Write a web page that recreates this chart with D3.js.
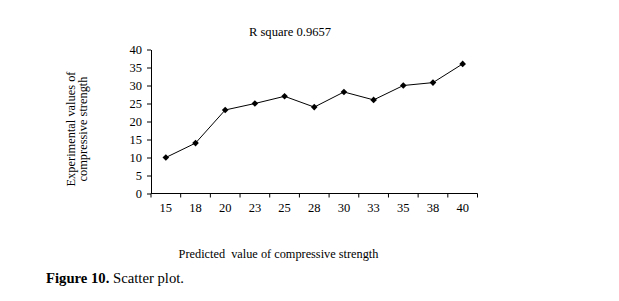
<!DOCTYPE html>
<html>
<head>
<meta charset="utf-8">
<script src="https://cdn.jsdelivr.net/npm/d3@7"></script>
<style>
  html, body { margin: 0; padding: 0; background: #fff; }
  svg { display: block; font-family: "Liberation Serif", "Times New Roman", serif; }
  .axis path, .axis line { stroke: #000; stroke-width: 1; }
  .axis text { font-size: 12.5px; fill: #000; font-family: "Liberation Serif", serif; }
</style>
</head>
<body>
<svg id="chart" width="619" height="301"></svg>
<script>
// predicted values (category labels) and experimental values
const predicted = ["15", "18", "20", "23", "25", "28", "30", "33", "35", "38", "40"];
const experimental = [10, 14, 23.2, 25, 27, 24, 28.2, 26, 30, 30.8, 36];
const yTicks = [0, 5, 10, 15, 20, 25, 30, 35, 40];

const svg = d3.select("#chart");
const m = { left: 151, top: 49.5, right: 477.5, bottom: 193.5 };

const x = d3.scaleBand().domain(predicted).range([m.left, m.right]);
const y = d3.scaleLinear().domain([0, 40]).range([m.bottom, m.top]);

// y axis
svg.append("g").attr("class", "axis")
  .attr("transform", `translate(${m.left},0)`)
  .call(d3.axisLeft(y).tickValues(yTicks).tickSize(4).tickSizeOuter(0).tickPadding(5))
  .call(g => g.selectAll("text").attr("dy", "0.35em"));

// x axis: ticks sit between categories
const xAxis = svg.append("g").attr("class", "axis")
  .attr("transform", `translate(0,${m.bottom})`);
xAxis.append("line").attr("x1", m.left).attr("x2", m.right).attr("stroke", "#000");
const edges = predicted.map(d => x(d)).concat([m.right]);
xAxis.selectAll("line.tk").data(edges).join("line").attr("class", "tk")
  .attr("x1", d => d).attr("x2", d => d).attr("y1", 0).attr("y2", 4).attr("stroke", "#000");
xAxis.selectAll("text").data(predicted).join("text")
  .attr("x", d => x(d) + x.bandwidth() / 2)
  .attr("y", 18)
  .attr("text-anchor", "middle")
  .text(d => d);

// line + diamond markers
const cx = (d, i) => x(predicted[i]) + x.bandwidth() / 2;
svg.append("path")
  .datum(experimental)
  .attr("fill", "none").attr("stroke", "#000").attr("stroke-width", 1)
  .attr("d", d3.line().x(cx).y(d => y(d)));

svg.append("g").selectAll("path").data(experimental).join("path")
  .attr("d", d3.symbol(d3.symbolSquare, 22))
  .attr("transform", (d, i) => `translate(${cx(d, i)},${y(d)}) rotate(45)`)
  .attr("fill", "#000");

// title
svg.append("text").attr("x", 290).attr("y", 36).attr("text-anchor", "middle")
  .attr("font-size", 12.6).text("R square 0.9657");

// y label (two lines)
const yl = svg.append("text").attr("transform", "translate(74.5,129) rotate(-90)")
  .attr("text-anchor", "middle").attr("font-size", 12.4);
yl.append("tspan").attr("x", 0).attr("y", 0).text("Experimental values of");
yl.append("tspan").attr("x", 0).attr("y", 12.5).text("compressive strength");

// x label
svg.append("text").attr("x", 278.5).attr("y", 258).attr("text-anchor", "middle")
  .attr("font-size", 12.3).attr("xml:space", "preserve")
  .text("Predicted  value of compressive strength");

// caption
const cap = svg.append("text").attr("x", 46).attr("y", 283).attr("font-size", 14.7);
cap.append("tspan").attr("font-weight", "bold").text("Figure 10.");
cap.append("tspan").text(" Scatter plot.");
</script>
</body>
</html>
